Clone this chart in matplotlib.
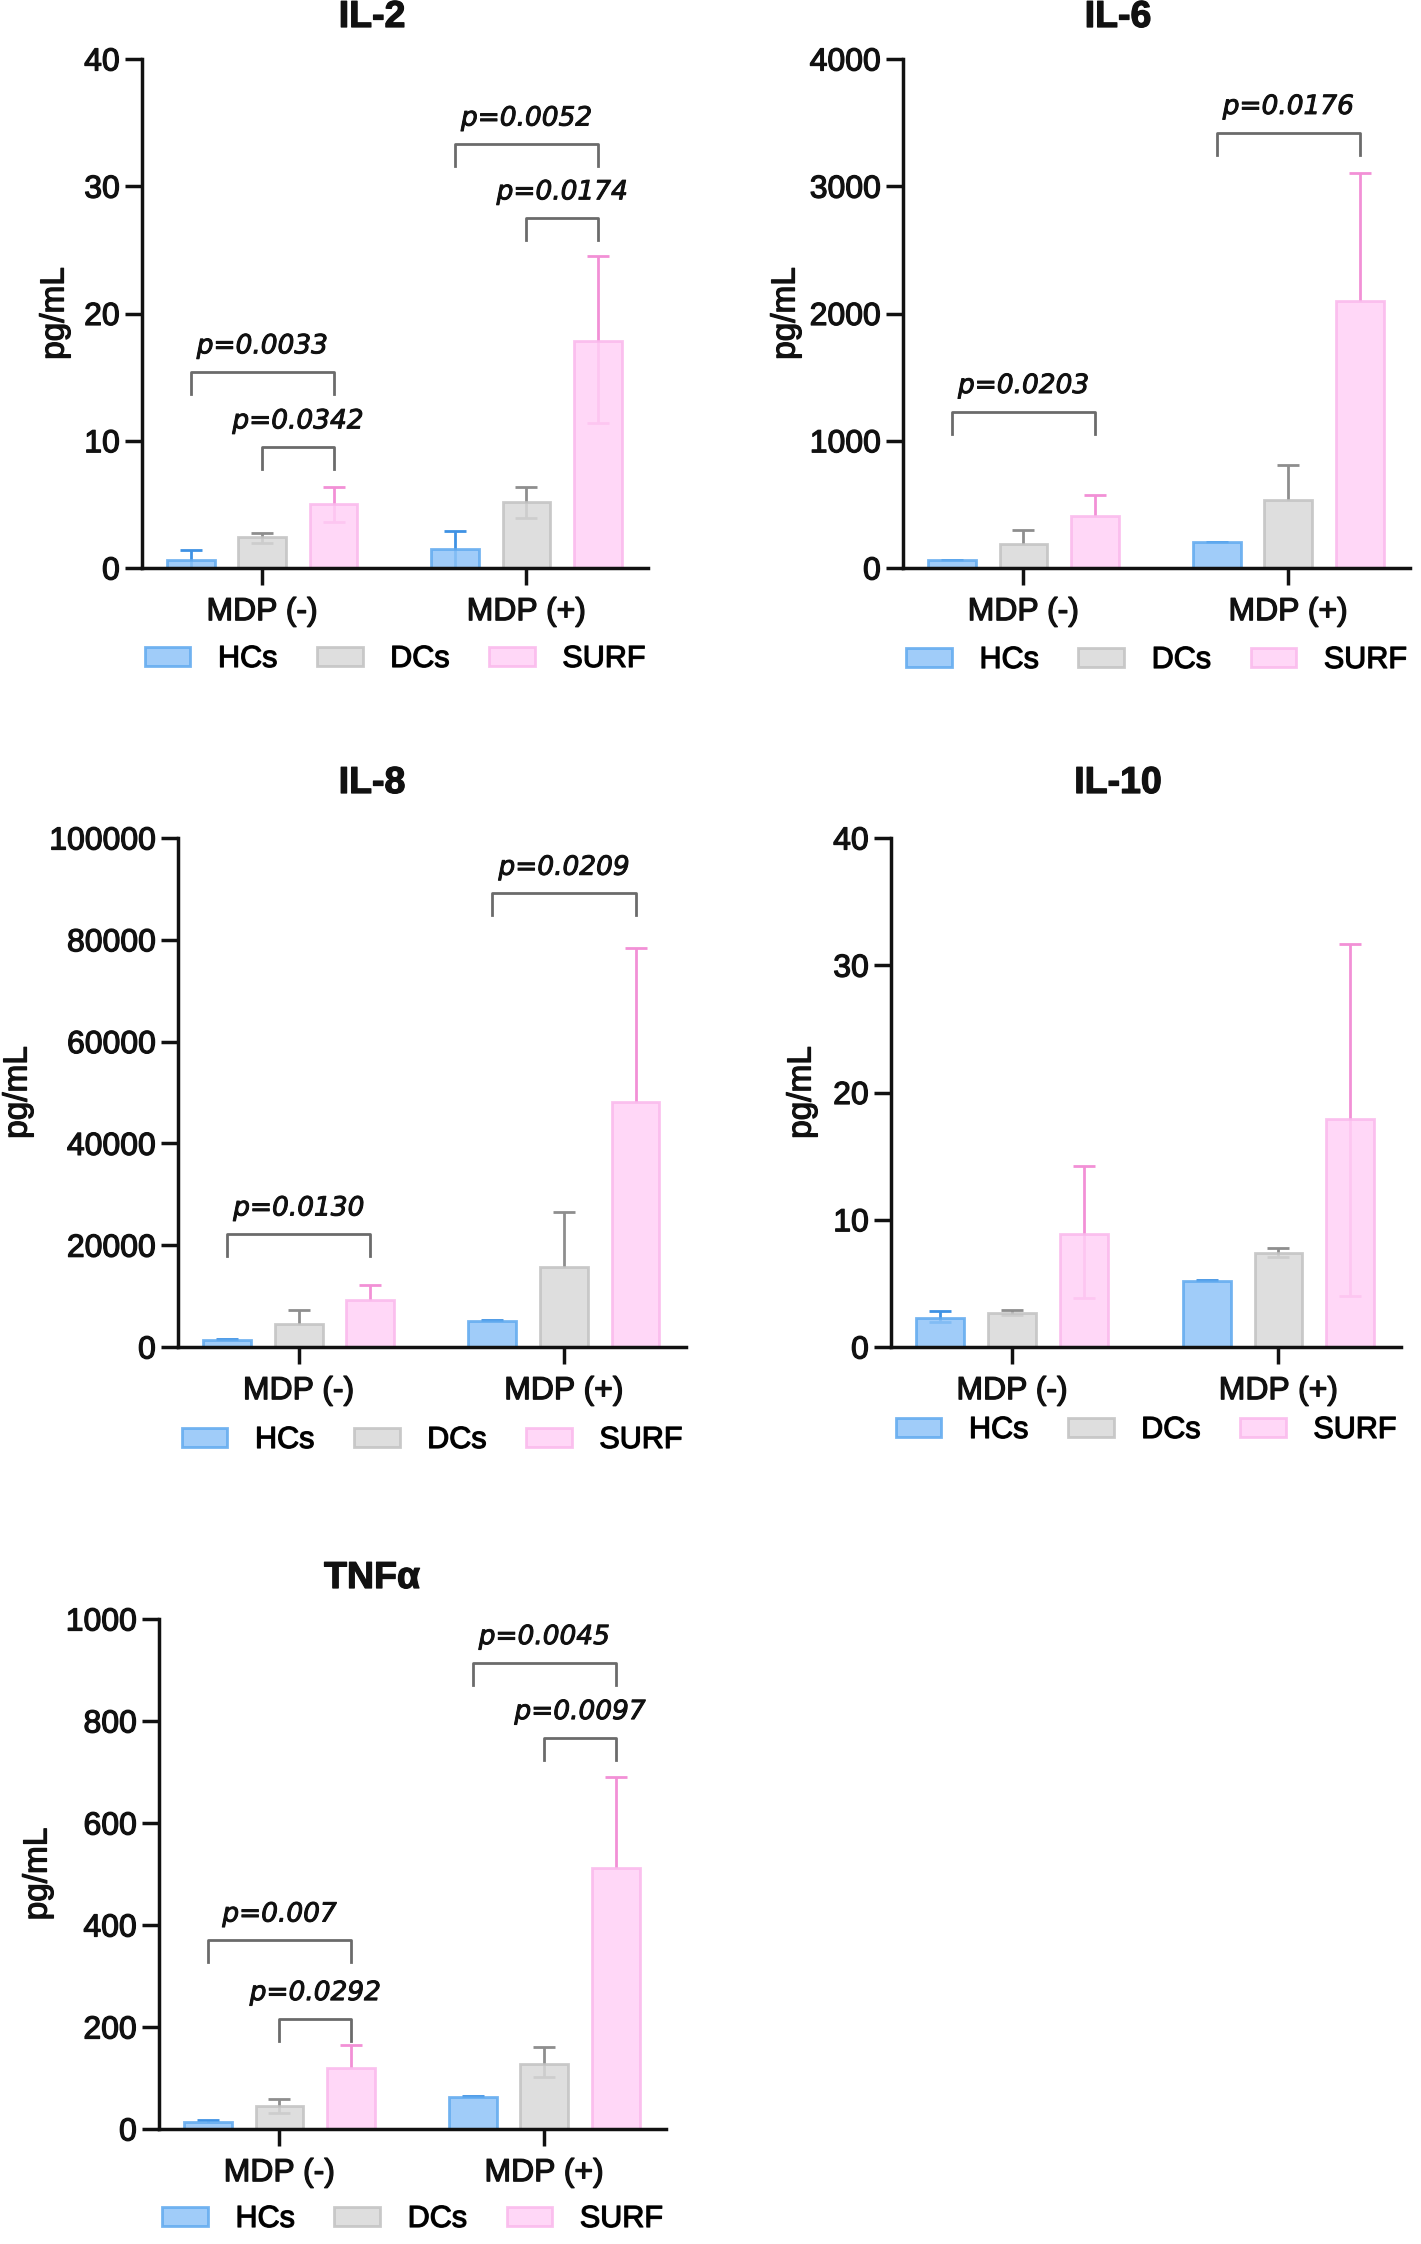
import numpy as np
import matplotlib
matplotlib.use("Agg")
import matplotlib.pyplot as plt
import matplotlib.patheffects as pe
from matplotlib.patches import Patch

plt.rcParams['font.family'] = ['Liberation Sans', 'DejaVu Sans']

groups = ["MDP (-)", "MDP (+)"]
series = ["HCs", "DCs", "SURF"]

# bar means, one row per series (HCs, DCs, SURF), columns = groups
il2_mean = [[0.63, 1.5], [2.4, 5.15], [5.0, 17.8]]
il2_upper = [[1.4, 2.9], [2.75, 6.4], [6.4, 24.5]]
il2_lower = [[0.0, 0.0], [2.0, 3.9], [3.6, 11.4]]
il2_brackets = [(0, 0, 2, 15.4, "p=0.0033"), (0, 1, 2, 9.5, "p=0.0342"),
                (1, 0, 2, 33.3, "p=0.0052"), (1, 1, 2, 27.5, "p=0.0174")]

il6_mean = [[60, 203], [186, 533], [410, 2098]]
il6_upper = [[60, 205], [295, 807], [572, 3105]]
il6_lower = [[60, 203], [186, 533], [410, 2098]]
il6_brackets = [(0, 0, 2, 1228, "p=0.0203"), (1, 0, 2, 3421, "p=0.0176")]

il8_mean = [[1350, 5130], [4500, 15680], [9280, 48100]]
il8_upper = [[1600, 5400], [7200, 26490], [12250, 78300]]
il8_lower = [[1350, 5130], [4500, 15680], [9280, 48100]]
il8_brackets = [(0, 0, 2, 22160, "p=0.0130"), (1, 0, 2, 89100, "p=0.0209")]

il10_mean = [[2.3, 5.19], [2.7, 7.35], [8.9, 17.9]]
il10_upper = [[2.85, 5.26], [2.88, 7.8], [14.2, 31.7]]
il10_lower = [[1.95, 5.19], [2.5, 7.06], [3.85, 4.04]]
il10_brackets = []

tnf_mean = [[14.5, 63.5], [45, 128], [119, 511]]
tnf_upper = [[17, 64], [59, 160], [164, 690]]
tnf_lower = [[14.5, 63.5], [31, 101], [119, 511]]
tnf_brackets = [(0, 0, 2, 370, "p=0.007"), (0, 1, 2, 216, "p=0.0292"),
                (1, 0, 2, 914, "p=0.0045"), (1, 1, 2, 767, "p=0.0097")]

panels = [
    ("IL-2", il2_mean, il2_upper, il2_lower, il2_brackets, 40, 10),
    ("IL-6", il6_mean, il6_upper, il6_lower, il6_brackets, 4000, 1000),
    ("IL-8", il8_mean, il8_upper, il8_lower, il8_brackets, 100000, 20000),
    ("IL-10", il10_mean, il10_upper, il10_lower, il10_brackets, 40, 10),
    ("TNFα", tnf_mean, tnf_upper, tnf_lower, tnf_brackets, 1000, 200),
]

# layout in pixels of a 1421x2244 canvas: left, right, top, bottom of axes
W, H = 1421, 2244
boxes = [(142, 648, 59, 568), (903, 1410, 59, 568),
         (178, 686, 838, 1347), (891, 1401, 838, 1347),
         (159, 666, 1619, 2129)]
title_pos = [(372, 17), (1118, 17), (372, 783), (1118, 783), (372, 1578)]
ylabel_x = [55, 786, 18, 802, 38]
legend_y = [659, 660, 1440, 1430, 2219]

face = ["#8FC4F8", "#D9D9D9", "#FFD0F6"]
edge = ["#5FA9EF", "#C2C2C2", "#FAB8EC"]
ecol = ["#3F92E4", "#8E8E8E", "#F290D6"]
ink = "#111111"
heavy = [pe.withStroke(linewidth=0.9, foreground=ink)]

offset = 0.27
width = 0.18

fig = plt.figure(figsize=(W / 100, H / 100), dpi=100)

for k, (name, mean, upper, lower, brackets, ymax, ystep) in enumerate(panels):
    l, r, t, b = boxes[k]
    ax = fig.add_axes([l / W, 1 - b / H, (r - l) / W, (b - t) / H])
    for i in range(3):
        xs = np.arange(len(groups)) + (i - 1) * offset
        for g in range(len(groups)):
            m = mean[i][g]
            lo = m - lower[i][g]
            hi = upper[i][g] - m
            eb = ax.errorbar(xs[g], m, yerr=[[lo], [hi]], fmt='none', ecolor=ecol[i],
                             elinewidth=2, capsize=8, capthick=2, zorder=1)
            if lo <= 0:
                eb[1][0].set_visible(False)
        ax.bar(xs, [mean[i][g] for g in range(len(groups))], width=width,
               color=face[i], alpha=0.85, edgecolor=edge[i], linewidth=2, zorder=2)

    for g, i, j, y, lab in brackets:
        x1 = g + (i - 1) * offset
        x2 = g + (j - 1) * offset
        d = ymax * 0.043
        ax.plot([x1, x1, x2, x2], [y - d, y, y, y - d], color="#6b6b6b", lw=2,
                zorder=3, clip_on=False)
        ax.text((x1 + x2) / 2, y + ymax * 0.025, lab, ha='center', va='bottom',
                fontsize=19, style='italic', family=['DejaVu Sans'], color=ink,
                path_effects=[pe.withStroke(linewidth=0.7, foreground=ink)])

    ax.set_xlim(-0.455, 1.46)
    ax.set_ylim(0, ymax)
    ax.set_yticks(np.arange(0, ymax + ystep / 2, ystep))
    ax.set_xticks(range(len(groups)))
    ax.set_xticklabels(groups)
    for s in ["top", "right"]:
        ax.spines[s].set_visible(False)
    for s in ["left", "bottom"]:
        ax.spines[s].set_linewidth(2.5)
        ax.spines[s].set_color(ink)
    ax.tick_params(axis='y', length=12, width=2.5, pad=4, labelsize=23, colors=ink)
    ax.tick_params(axis='x', length=12, width=2.5, pad=9, labelsize=23, colors=ink)
    for lbl in ax.get_xticklabels() + ax.get_yticklabels():
        lbl.set_path_effects(heavy)

    tx, ty = title_pos[k]
    fig.text(tx / W, 1 - ty / H, name, ha='center', va='center', fontsize=27,
             fontweight='bold', color=ink, path_effects=heavy)
    fig.text(ylabel_x[k] / W, 1 - (t + b) / 2 / H, "pg/mL", rotation=90,
             ha='center', va='center', fontsize=24, color=ink, path_effects=heavy)

    handles = [Patch(facecolor=face[i], edgecolor=edge[i], linewidth=2, alpha=0.85)
               for i in range(3)]
    leg = ax.legend(handles, series, loc='center', ncol=3, frameon=False, fontsize=22,
                    bbox_to_anchor=(0.5, -(legend_y[k] - b) / (b - t)),
                    handlelength=1.5, handleheight=0.6, handletextpad=0.9,
                    columnspacing=1.3)
    for txt in leg.get_texts():
        txt.set_path_effects(heavy)

fig.savefig("out.png", dpi=100)
